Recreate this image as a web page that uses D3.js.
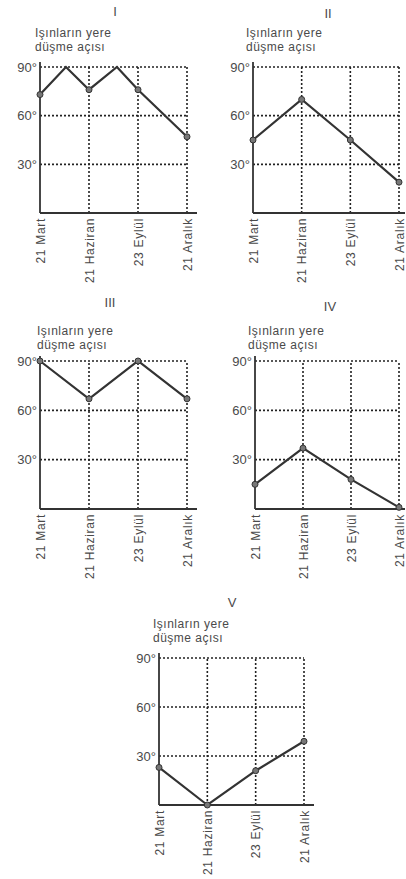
<!DOCTYPE html>
<html>
<head>
<meta charset="utf-8">
<script src="https://cdn.jsdelivr.net/npm/d3@7"></script>
<style>
  body { margin: 0; background: #fff; }
  svg { display: block; font-family: "Liberation Sans", Arial, sans-serif; }
  .lbl { fill: #4a4a4a; }
</style>
</head>
<body>
<div id="chart"></div>
<script>
// month tick labels
const months = ["21 Mart", "21 Haziran", "23 Eylül", "21 Aralık"];
const yTicks = [30, 60, 90];
const panelNames = ["I", "II", "III", "IV", "V"];

// position along the year (0 = 21 Mart ... 3 = 21 Aralık) and angle
const posI = [0, 0.53, 1, 1.57, 2, 3];
const valI = [73, 90, 76, 90, 76, 47];
const posII = [0, 1, 2, 3];
const valII = [45, 70, 45, 19];
const posIII = [0, 1, 2, 3];
const valIII = [90, 67, 90, 67];
const posIV = [0, 1, 2, 3];
const valIV = [15, 37, 18, 1];
const posV = [0, 1, 2, 3];
const valV = [23, 0, 21, 39];

const series = [
  { pos: posI, val: valI },
  { pos: posII, val: valII },
  { pos: posIII, val: valIII },
  { pos: posIV, val: valIV },
  { pos: posV, val: valV }
];

// panel layout: axis x, right edge, top (90°), baseline, title/subtitle spots
const layout = [
  { x0: 40,  x1: 187, top: 67,  base: 213, tx: 115, ty: 16,  sx: 35,  sy: 37 },
  { x0: 253, x1: 399, top: 67,  base: 213, tx: 328, ty: 18,  sx: 246, sy: 37 },
  { x0: 40,  x1: 187, top: 361, base: 509, tx: 110, ty: 307, sx: 37,  sy: 335 },
  { x0: 255, x1: 399, top: 361, base: 509, tx: 330, ty: 311, sx: 248, sy: 335 },
  { x0: 159, x1: 304, top: 658, base: 805, tx: 232, ty: 607, sx: 153, sy: 628 }
];

const svg = d3.select("#chart").append("svg")
  .attr("width", 406).attr("height", 879);

layout.forEach((L, k) => {
  const x = d3.scaleLinear().domain([0, 3]).range([L.x0, L.x1]);
  const y = d3.scaleLinear().domain([0, 90]).range([L.base, L.top]);
  const g = svg.append("g");

  // title and subtitle
  g.append("text").attr("class", "lbl")
    .attr("x", L.tx).attr("y", L.ty)
    .attr("text-anchor", "middle")
    .attr("font-size", 13)
    .text(panelNames[k]);
  g.append("text").attr("class", "lbl")
    .attr("x", L.sx).attr("y", L.sy)
    .attr("font-size", 12).attr("letter-spacing", 0.5)
    .text("Işınların yere");
  g.append("text").attr("class", "lbl")
    .attr("x", L.sx).attr("y", L.sy + 14)
    .attr("font-size", 12).attr("letter-spacing", 0.5)
    .text("düşme açısı");

  // dotted grid
  g.append("g").selectAll("line.h")
    .data(yTicks).enter().append("line")
    .attr("x1", x(0)).attr("x2", x(3))
    .attr("y1", d => y(d)).attr("y2", d => y(d))
    .attr("stroke", "#222").attr("stroke-width", 1.6)
    .attr("stroke-dasharray", "2,2");
  g.append("g").selectAll("line.v")
    .data([1, 2, 3]).enter().append("line")
    .attr("x1", d => x(d)).attr("x2", d => x(d))
    .attr("y1", y(0)).attr("y2", y(90))
    .attr("stroke", "#222").attr("stroke-width", 1.6)
    .attr("stroke-dasharray", "2,2");

  // axes
  const yAxis = g.append("g")
    .attr("transform", `translate(${L.x0},0)`)
    .call(d3.axisLeft(y).tickValues(yTicks).tickSize(0).tickPadding(3)
      .tickFormat(d => d + "°"));
  yAxis.select(".domain").remove();
  yAxis.selectAll("text").attr("class", "lbl").attr("font-size", 13)
    .attr("font-family", "Liberation Sans, Arial, sans-serif");

  const xAxis = g.append("g")
    .attr("transform", `translate(0,${L.base})`)
    .call(d3.axisBottom(x).tickValues([0, 1, 2, 3]).tickSize(0)
      .tickFormat(i => months[i]));
  xAxis.select(".domain").remove();
  xAxis.selectAll("text")
    .attr("class", "lbl")
    .attr("font-size", 12)
    .attr("letter-spacing", 0.7)
    .attr("font-family", "Liberation Sans, Arial, sans-serif")
    .attr("transform", "rotate(-90)")
    .attr("text-anchor", "end")
    .attr("x", -5).attr("y", 0).attr("dy", "0.35em");

  g.append("line")
    .attr("x1", L.x0).attr("x2", L.x0)
    .attr("y1", L.base).attr("y2", L.top - 5)
    .attr("stroke", "#333").attr("stroke-width", 1.8);
  g.append("line")
    .attr("x1", L.x0).attr("x2", Math.min(L.x1 + 10, 405))
    .attr("y1", L.base).attr("y2", L.base)
    .attr("stroke", "#333").attr("stroke-width", 1.8);

  // data line
  const s = series[k];
  const pts = s.pos.map((p, i) => [p, s.val[i]]);
  g.append("path")
    .datum(pts)
    .attr("fill", "none")
    .attr("stroke", "#333").attr("stroke-width", 2.2)
    .attr("stroke-linejoin", "miter")
    .attr("d", d3.line().x(d => x(d[0])).y(d => y(d[1])));
  g.append("g").selectAll("circle")
    .data(pts.filter(d => Number.isInteger(d[0])))
    .enter().append("circle")
    .attr("cx", d => x(d[0])).attr("cy", d => y(d[1]))
    .attr("r", 3)
    .attr("fill", "#777").attr("stroke", "#333").attr("stroke-width", 1);
});
</script>
</body>
</html>
